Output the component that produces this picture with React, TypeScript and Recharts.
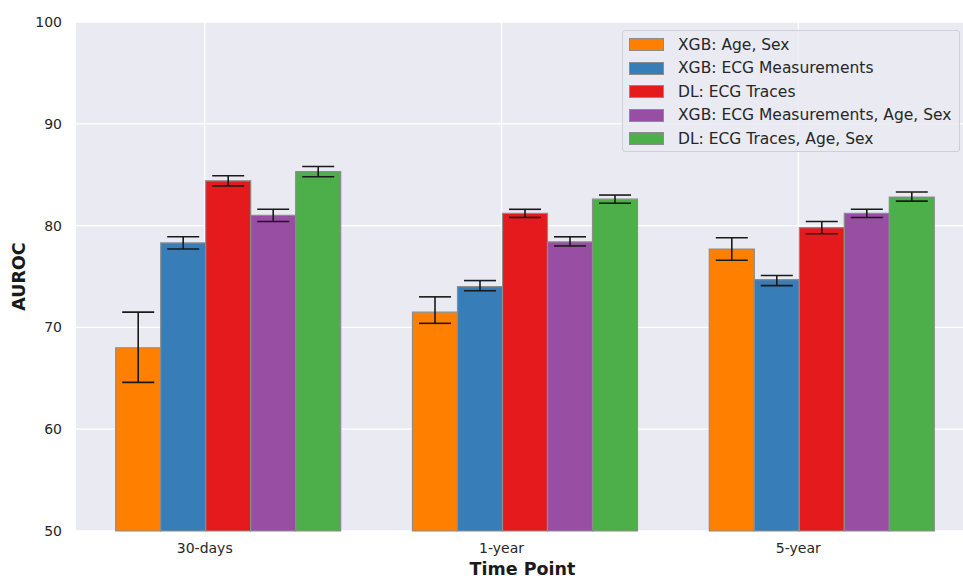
import React from 'react';
import { BarChart, Bar, XAxis, YAxis, CartesianGrid, ErrorBar, Legend } from 'recharts';

const categories = ['30-days', '1-year', '5-year'];
const seriesNames = [
  'XGB: Age, Sex',
  'XGB: ECG Measurements',
  'DL: ECG Traces',
  'XGB: ECG Measurements, Age, Sex',
  'DL: ECG Traces, Age, Sex',
];
const seriesColors = ['#FF7F00', '#377EB8', '#E41A1C', '#984EA3', '#4DAF4A'];

// values per series, per category
const xgbAgeSex = [68.0, 71.5, 77.7];
const xgbEcg = [78.3, 74.0, 74.7];
const dlEcg = [84.4, 81.2, 79.8];
const xgbEcgAgeSex = [81.0, 78.4, 81.2];
const dlEcgAgeSex = [85.3, 82.6, 82.8];

// confidence interval bounds
const xgbAgeSexLow = [64.6, 70.4, 76.6];
const xgbAgeSexHigh = [71.5, 73.0, 78.8];
const xgbEcgLow = [77.7, 73.6, 74.1];
const xgbEcgHigh = [78.9, 74.6, 75.1];
const dlEcgLow = [83.9, 80.8, 79.2];
const dlEcgHigh = [84.9, 81.6, 80.4];
const xgbEcgAgeSexLow = [80.4, 78.0, 80.8];
const xgbEcgAgeSexHigh = [81.6, 78.9, 81.6];
const dlEcgAgeSexLow = [84.8, 82.2, 82.4];
const dlEcgAgeSexHigh = [85.8, 83.0, 83.3];

const yTicks = [50, 60, 70, 80, 90, 100];

const values = [xgbAgeSex, xgbEcg, dlEcg, xgbEcgAgeSex, dlEcgAgeSex];
const lows = [xgbAgeSexLow, xgbEcgLow, dlEcgLow, xgbEcgAgeSexLow, dlEcgAgeSexLow];
const highs = [xgbAgeSexHigh, xgbEcgHigh, dlEcgHigh, xgbEcgAgeSexHigh, dlEcgAgeSexHigh];

const data = categories.map((c, i) => {
  const row: any = { name: c };
  values.forEach((v, s) => {
    row['s' + s] = v[i];
    row['e' + s] = [v[i] - lows[s][i], highs[s][i] - v[i]];
  });
  return row;
});

const FONT = '"DejaVu Sans", sans-serif';

const CHART_W = 969;
const CHART_H = 578;
const Y_AXIS_W = 76;
const PAD_LEFT = 2.6;
const GROUP_FRAC = 0.75;
const N_SERIES = seriesNames.length;
const BAND = (CHART_W - Y_AXIS_W - PAD_LEFT) / categories.length;
// matplotlib places the tick at the left edge of the middle bar
const TICK_SHIFT = -(GROUP_FRAC / N_SERIES) * 0.5 * BAND;

const LegendBox = () => (
  <div
    style={{
      position: 'absolute',
      left: 622,
      top: 30,
      width: 338,
      height: 122,
      boxSizing: 'border-box',
      background: 'rgba(234,234,242,0.8)',
      border: '1px solid #cfcfd6',
      borderRadius: 3,
      fontFamily: FONT,
      fontSize: 15.5,
      color: '#262626',
      paddingTop: 2,
    }}
  >
    {seriesNames.map((n, i) => (
      <div key={n} style={{ display: 'flex', alignItems: 'center', height: 23.5 }}>
        <div
          style={{
            marginLeft: 6,
            width: 33,
            height: 11,
            background: seriesColors[i],
            border: '1px solid #8c8c8c',
          }}
        />
        <span style={{ marginLeft: 14, whiteSpace: 'nowrap' }}>{n}</span>
      </div>
    ))}
  </div>
);

const XTick = (props: any) => {
  const { x, y, payload } = props;
  return (
    <text
      x={x + TICK_SHIFT}
      y={y}
      dy="0.71em"
      textAnchor="middle"
      fill="#262626"
      fontSize={14}
      fontFamily={FONT}
    >
      {payload.value}
    </text>
  );
};

const verticalGen = ({ offset }: any) =>
  categories.map((_, i) => offset.left + PAD_LEFT + BAND * (i + 0.5) + TICK_SHIFT);

export default function App() {
  return (
    <div style={{ position: 'absolute', left: 0, top: 0, width: 963, height: 578, overflow: 'hidden', background: '#fff' }}>
      <BarChart
        width={CHART_W}
        height={CHART_H}
        data={data}
        margin={{ top: 22, right: 0, left: 0, bottom: 0 }}
        barCategoryGap="12.5%"
        barGap={0}
      >
        <CartesianGrid
          fill="#EAEAF2"
          stroke="#ffffff"
          strokeWidth={1.3}
          verticalCoordinatesGenerator={verticalGen}
        />
        <XAxis
          dataKey="name"
          axisLine={false}
          tickLine={false}
          tick={<XTick />}
          tickMargin={6}
          height={47}
          padding={{ left: PAD_LEFT, right: 0 }}
          label={{
            value: 'Time Point',
            position: 'insideBottom',
            offset: 3,
            style: { fill: '#1a1a1a', fontSize: 17.5, fontWeight: 'bold', fontFamily: FONT },
          }}
        />
        <YAxis
          domain={[50, 100]}
          ticks={yTicks}
          axisLine={false}
          tickLine={false}
          width={Y_AXIS_W}
          tick={{ fill: '#262626', fontSize: 14, fontFamily: FONT }}
          tickMargin={8}
          label={{
            value: 'AUROC',
            angle: -90,
            position: 'insideLeft',
            offset: 19,
            style: { fill: '#1a1a1a', fontSize: 17.5, fontWeight: 'bold', fontFamily: FONT, textAnchor: 'middle' },
          }}
        />
        <Legend content={() => <LegendBox />} wrapperStyle={{ position: 'absolute', left: 0, top: 0, width: 0, height: 0 }} />
        {seriesNames.map((n, s) => (
          <Bar
            key={n}
            dataKey={'s' + s}
            name={n}
            fill={seriesColors[s]}
            stroke="#8c8c8c"
            strokeWidth={1.2}
            isAnimationActive={false}
          >
            <ErrorBar dataKey={'e' + s} width={16} stroke="#1a1a1a" strokeWidth={1.6} direction="y" />
          </Bar>
        ))}
      </BarChart>
    </div>
  );
}
